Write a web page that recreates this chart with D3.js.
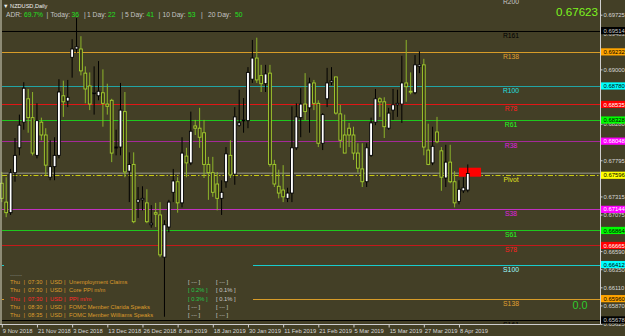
<!DOCTYPE html>
<html><head><meta charset="utf-8">
<script src="https://cdn.jsdelivr.net/npm/d3@7"></script>
<style>
html,body{margin:0;padding:0;background:#433f26;}
svg{display:block;}
text{font-family:"Liberation Sans",Arial,sans-serif;}
</style></head><body>
<svg id="c" width="625" height="336"></svg>
<script>
// ---------------- DATA ----------------
const dates = [
"2018-11-09","2018-11-12","2018-11-13","2018-11-14","2018-11-15","2018-11-16","2018-11-19","2018-11-20","2018-11-21","2018-11-22","2018-11-23","2018-11-26","2018-11-27","2018-11-28","2018-11-29","2018-11-30",
"2018-12-03","2018-12-04","2018-12-05","2018-12-06","2018-12-07","2018-12-10","2018-12-11","2018-12-12","2018-12-13","2018-12-14","2018-12-17","2018-12-18","2018-12-19","2018-12-20","2018-12-21","2018-12-24","2018-12-26","2018-12-27","2018-12-28","2018-12-31",
"2019-01-02","2019-01-03","2019-01-04","2019-01-07","2019-01-08","2019-01-09","2019-01-10","2019-01-11","2019-01-14","2019-01-15","2019-01-16","2019-01-17","2019-01-18","2019-01-21","2019-01-22","2019-01-23","2019-01-24","2019-01-25","2019-01-28","2019-01-29","2019-01-30","2019-01-31",
"2019-02-01","2019-02-04","2019-02-05","2019-02-06","2019-02-07","2019-02-08","2019-02-11","2019-02-12","2019-02-13","2019-02-14","2019-02-15","2019-02-18","2019-02-19","2019-02-20","2019-02-21","2019-02-22","2019-02-25","2019-02-26","2019-02-27","2019-02-28",
"2019-03-01","2019-03-04","2019-03-05","2019-03-06","2019-03-07","2019-03-08","2019-03-11","2019-03-12","2019-03-13","2019-03-14","2019-03-15","2019-03-18","2019-03-19","2019-03-20","2019-03-21","2019-03-22","2019-03-25","2019-03-26","2019-03-27","2019-03-28","2019-03-29",
"2019-04-01","2019-04-02","2019-04-03","2019-04-04","2019-04-05","2019-04-08","2019-04-09","2019-04-10"];

const open = [
.6749,.6724,.6710,.6763,.6796,.6830,.6861,.6836,.6786,.6830,
.6813,.6757,.6771,.6786,.6865,.6858,.6916,.6927,.6927,.6895,
.6878,.6868,.6865,.6869,.6854,.6859,.6796,.6797,.6844,.6765,
.6774,.6724,.6727,.6723,.6694,.6710,.6707,.6651,.6691,.6737,
.6751,.6723,.6785,.6776,.6825,.6822,.6816,.6774,.6763,.6748,
.6729,.6751,.6786,.6761,.6826,.6832,.6832,.6887,.6915,.6892,
.6881,.6895,.6774,.6745,.6740,.6729,.6736,.6796,.6836,.6854,
.6849,.6882,.6855,.6802,.6861,.6883,.6890,.6841,.6813,.6822,
.6813,.6789,.6768,.6751,.6786,.6830,.6861,.6857,.6822,.6846,
.6853,.6854,.6882,.6871,.6869,.6904,.6906,.6793,.6776,.6817,
.6792,.6756,.6777,.6751,.6725,.6739,.6740];
const high = [
.6764,.6757,.6768,.6809,.6840,.6883,.6874,.6870,.6855,.6836,
.6822,.6806,.6810,.6887,.6885,.6886,.6940,.6968,.6944,.6904,
.6896,.6904,.6911,.6900,.6881,.6861,.6820,.6882,.6870,.6790,
.6790,.6744,.6745,.6741,.6720,.6723,.6724,.6700,.6727,.6768,
.6757,.6810,.6796,.6844,.6833,.6849,.6833,.6784,.6784,.6764,
.6753,.6797,.6806,.6850,.6873,.6862,.6903,.6939,.6942,.6906,
.6906,.6906,.6780,.6767,.6773,.6743,.6851,.6855,.6875,.6895,
.6889,.6886,.6859,.6842,.6902,.6903,.6890,.6853,.6840,.6829,
.6824,.6802,.6802,.6802,.6836,.6874,.6863,.6863,.6849,.6874,
.6873,.6918,.6939,.6896,.6919,.6924,.6914,.6828,.6824,.6837,
.6797,.6800,.6800,.6765,.6753,.6757,.6774];
const low = [
.6724,.6704,.6707,.6751,.6786,.6820,.6816,.6786,.6782,.6806,
.6760,.6753,.6753,.6782,.6837,.6850,.6889,.6922,.6892,.6855,
.6846,.6840,.6859,.6824,.6840,.6777,.6786,.6786,.6757,.6724,
.6696,.6703,.6713,.6696,.6690,.6691,.6651,.6572,.6684,.6724,
.6710,.6717,.6757,.6773,.6813,.6796,.6756,.6727,.6731,.6713,
.6707,.6743,.6756,.6747,.6824,.6816,.6822,.6882,.6882,.6870,
.6870,.6771,.6744,.6729,.6724,.6724,.6724,.6793,.6810,.6833,
.6816,.6846,.6797,.6793,.6850,.6879,.6840,.6796,.6789,.6797,
.6780,.6763,.6744,.6744,.6784,.6826,.6837,.6809,.6820,.6833,
.6837,.6829,.6857,.6867,.6867,.6895,.6786,.6773,.6773,.6802,
.6739,.6744,.6749,.6717,.6721,.6736,.6737];
const close = [
.6729,.6710,.6763,.6786,.6826,.6875,.6836,.6789,.6832,.6813,
.6773,.6771,.6786,.6870,.6857,.6863,.6927,.6930,.6898,.6874,
.6854,.6869,.6871,.6855,.6851,.6789,.6797,.6846,.6764,.6774,
.6698,.6727,.6729,.6698,.6696,.6708,.6654,.6694,.6724,.6752,
.6723,.6789,.6776,.6818,.6822,.6810,.6774,.6763,.6737,.6729,
.6737,.6788,.6760,.6837,.6829,.6833,.6896,.6915,.6886,.6881,
.6894,.6774,.6748,.6736,.6731,.6736,.6796,.6837,.6854,.6844,
.6882,.6855,.6802,.6840,.6882,.6885,.6842,.6806,.6789,.6813,
.6789,.6769,.6751,.6796,.6829,.6861,.6857,.6824,.6842,.6853,
.6855,.6882,.6877,.6870,.6906,.6906,.6797,.6774,.6798,.6804,
.6757,.6777,.6751,.6723,.6741,.6743,.6762];

const levelNames  = ["R200","R161","R138","R100","R78","R61","R38","Pivot","S38","S61","S78","S100","S138","S161"];
const levelValues = [0.69964,0.69514,0.69232,0.68780,0.68535,0.68328,0.68048,0.67596,0.67144,0.66864,0.66665,0.66412,0.65960,0.65678];

const priceTicks = [0.69725,0.69483,0.69000,0.68280,0.67795,0.67315,0.67075,0.66590,0.66350,0.66110,0.65870,0.65625];
const dateTicks = ["2018-11-09","2018-11-21","2018-12-03","2018-12-13","2018-12-26","2019-01-08","2019-01-18","2019-01-30","2019-02-11","2019-02-21","2019-03-05","2019-03-15","2019-03-27","2019-04-08"];

const symbolTitle = "NZDUSD,Daily";
const lastPrice = 0.67623;
const adrPct = "69.7%";
const adrLabels = ["Today:","1 Day:","5 Day:","10 Day:","20 Day:"];
const adrValues = [36,22,41,53,50];

const newsDay   = ["Thu","Thu","Thu","Thu","Thu"];
const newsTime  = ["07:30","07:30","07:30","08:30","08:35"];
const newsCcy   = ["USD","USD","USD","USD","USD"];
const newsEvent = ["Unemployment Claims","Core PPI m/m","PPI m/m","FOMC Member Clarida Speaks","FOMC Member Williams Speaks"];
const newsForecast = ["---","0.2%","0.3%","---","---"];
const newsPrevious = ["---","0.1%","0.1%","---","---"];
const newsHighImpact = [false,false,true,false,false];

const redBoxPrices = [0.67577, 0.67696];
const redBoxStart = "2019-04-08";
const spreadText = "0.0";

// ---------------- STYLE / LAYOUT ----------------
const W = 625, H = 336;
const BG = "#433f26";
const plotL = 2, plotR = 600, plotB = 324;
const levelLine = {R200:"#000",R161:"#000",R138:"#d89c28",R100:"#22a4a4",R78:"#e01616",R61:"#1ec81e",R38:"#a42a98",
  Pivot:"#c8c814",S38:"#c030c0",S61:"#1ec81e",S78:"#c41a1a",S100:"#18cccc",S138:"#d89c28",S161:"#000"};
const levelText = {R200:"#c8c8c8",R161:"#000",R138:"#e0a030",R100:"#20e0e0",R78:"#ff2020",R61:"#20ff20",R38:"#e020e0",
  Pivot:"#e0e020",S38:"#e020e0",S61:"#20ff20",S78:"#ff2020",S100:"#a0ffff",S138:"#e0a030",S161:"#000"};
const levelBox = {R200:["#000","#c8c8c8"],R161:["#000","#c8c8c8"],R138:["#ffa500","#000"],R100:["#00ffff","#000"],R78:["#ff0000","#fff"],
  R61:["#00ff00","#000"],R38:["#ff00ff","#fff"],Pivot:["#ffff00","#000"],S38:["#ff00ff","#fff"],S61:["#00ff00","#000"],
  S78:["#ff0000","#fff"],S100:["#00ffff","#000"],S138:["#ffa500","#000"],S161:["#000","#c8c8c8"]};
const BULL_BODY="#ffffff", BULL_LINE="#000000", BEAR_BODY="#37351a", BEAR_LINE="#a6d02e", BEAR_WICK="#8cb42a";
const AXIS="#cfcfcf";

const svg = d3.select("#c");
svg.append("rect").attr("width",W).attr("height",H).attr("fill",BG);

const x = d3.scalePoint().domain(dates).range([1.8, 1.8 + 4.396*(dates.length-1)]);
const step = x.step();
const y = d3.scaleLinear().domain([0.65625,0.69725]).range([323.9,14.7]);

const defs = svg.append("defs");
defs.append("clipPath").attr("id","plotclip").append("rect").attr("x",0).attr("y",0).attr("width",plotR).attr("height",plotB);
defs.append("clipPath").attr("id","axisclip").append("rect").attr("x",plotR).attr("y",0).attr("width",W-plotR).attr("height",plotB+4);

const plot = svg.append("g").attr("clip-path","url(#plotclip)");

// level lines
const levels = levelNames.map((n,i)=>({n, v:levelValues[i]}));
plot.append("g").selectAll("line").data(levels).join("line")
  .attr("x1",plotL).attr("x2",plotR)
  .attr("y1",d=>Math.round(y(d.v))+0.5).attr("y2",d=>Math.round(y(d.v))+0.5)
  .attr("stroke",d=>levelLine[d.n]).attr("stroke-width",1)
  .attr("stroke-dasharray",d=>d.n==="Pivot"?"5,2,1.5,2":null);

// bid line
plot.append("line").attr("x1",plotL).attr("x2",plotR)
  .attr("y1",y(lastPrice)).attr("y2",y(lastPrice))
  .attr("stroke","#7c7c6c").attr("stroke-width",1.6);

// news panel background (covers objects)
plot.append("rect").attr("x",4).attr("y",250).attr("width",249).attr("height",68).attr("fill",BG);

// red box
plot.append("rect").attr("x",x(redBoxStart)).attr("width",step*5)
  .attr("y",y(redBoxPrices[1])).attr("height",y(redBoxPrices[0])-y(redBoxPrices[1]))
  .attr("fill","#ff0000");

// candles
const bars = dates.map((d,i)=>({d,o:open[i],h:high[i],l:low[i],c:close[i]}));
const cg = plot.append("g").selectAll("g").data(bars).join("g");
cg.append("line")
  .attr("x1",b=>x(b.d)).attr("x2",b=>x(b.d))
  .attr("y1",b=>y(b.h)).attr("y2",b=>y(b.l))
  .attr("stroke",b=>b.c>=b.o?BULL_LINE:BEAR_WICK).attr("stroke-width",1);
cg.append("rect")
  .attr("x",b=>x(b.d)-1.4).attr("width",2.8)
  .attr("y",b=>y(Math.max(b.o,b.c)))
  .attr("height",b=>Math.max(0.9,Math.abs(y(b.o)-y(b.c))))
  .attr("fill",b=>b.c>=b.o?BULL_BODY:BEAR_BODY)
  .attr("stroke",b=>b.c>=b.o?BULL_LINE:BEAR_LINE).attr("stroke-width",0.9);

// level text labels
plot.append("g").selectAll("text").data(levels).join("text")
  .attr("x",511).attr("y",d=>y(d.v)+7)
  .attr("text-anchor","middle").attr("font-size",6.8)
  .attr("fill",d=>levelText[d.n]).text(d=>d.n);

// header
svg.append("text").attr("x",3).attr("y",8).attr("font-size",5.6).attr("fill","#f0f0f0").text("\u25BC " + symbolTitle);

const adrSegs = [["ADR:",6,"l"],[adrPct,24,"v"]];
const labX=[50.5,87,125,162.5,208], valX=[71.5,108,146.5,188,235], pipeX=[46.5,84,121.5,158.5,201];
adrLabels.forEach((l,i)=>{adrSegs.push(["|",pipeX[i],"l"]);adrSegs.push([l,labX[i],"l"]);adrSegs.push([String(adrValues[i]),valX[i],"v"]);});
svg.append("g").selectAll("text").data(adrSegs).join("text")
  .attr("x",d=>d[1]).attr("y",16.6).attr("font-size",6.7)
  .attr("fill",d=>d[2]==="v"?"#22e022":"#c4c4c4").text(d=>d[0]);

// big price
svg.append("text").attr("x",598).attr("y",15.5).attr("text-anchor","end").attr("font-size",11.6)
  .attr("fill","#7cf41e").text(d3.format(".5f")(lastPrice));
// spread
svg.append("text").attr("x",572.5).attr("y",309).attr("font-size",10.8).attr("fill","#2ecc2e").text(spreadText);

// news
svg.append("text").attr("x",10).attr("y",277).attr("font-size",6).attr("fill","#8c8c8c").text("------");
const news = newsEvent.map((e,i)=>({i,day:newsDay[i],t:newsTime[i],c:newsCcy[i],e,f:newsForecast[i],p:newsPrevious[i],hi:newsHighImpact[i]}));
const ng = svg.append("g").selectAll("g").data(news).join("g")
  .attr("transform",d=>`translate(0,${284.3+d.i*8.1})`);
const cols = [[d=>d.day,10],[()=>"|",23.5],[d=>d.t,28],[()=>"|",45.5],[d=>d.c,50],[()=>"|",64],[d=>d.e,69]];
cols.forEach(([f,cx])=>{
  ng.append("text").attr("x",cx).attr("font-size",5.8).attr("fill",d=>d.hi?"#ff2a2a":"#dc9c2c").text(f);
});
ng.append("text").attr("x",188).attr("font-size",5.8).attr("xml:space","preserve")
  .attr("fill",d=>d.f==="---"?"#c8c8c8":"#22c84a").text(d=>"[ "+d.f+" ]");
ng.append("text").attr("x",216).attr("font-size",5.8).attr("xml:space","preserve")
  .attr("fill","#c8c8c8").text(d=>"[ "+d.p+" ]");

// frame / axes
svg.append("line").attr("x1",1).attr("x2",1).attr("y1",0).attr("y2",plotB).attr("stroke","#d8d8c4").attr("stroke-width",1);
svg.append("line").attr("x1",0).attr("x2",plotR+0.5).attr("y1",plotB+0.5).attr("y2",plotB+0.5).attr("stroke",AXIS);
svg.append("line").attr("x1",plotR+0.5).attr("x2",plotR+0.5).attr("y1",0).attr("y2",plotB+0.5).attr("stroke",AXIS);

const fmtDate = d3.timeFormat("%-d %b %Y"), parse = d3.timeParse("%Y-%m-%d");
const xAxis = svg.append("g").attr("transform",`translate(0,${plotB+0.5})`)
  .call(d3.axisBottom(x).tickValues(dateTicks).tickSize(3).tickFormat(d=>fmtDate(parse(d))));
xAxis.select(".domain").remove();
xAxis.selectAll("line").attr("stroke",AXIS);
xAxis.selectAll("text").attr("text-anchor","start").attr("x",0.5).attr("y",4).attr("dy","0.71em")
  .attr("font-size",5.8).attr("fill","#d8d8d8").attr("font-family","'Liberation Sans',Arial,sans-serif");

const yAxis = svg.append("g").attr("transform",`translate(${plotR+0.5},0)`)
  .call(d3.axisRight(y).tickValues(priceTicks).tickSize(2).tickFormat(d3.format(".5f")));
yAxis.select(".domain").remove();
yAxis.selectAll("line").attr("stroke",AXIS);
yAxis.selectAll("text").attr("x",3).attr("dy","0.35em").attr("font-size",5.9).attr("fill","#d8d8d8")
  .attr("font-family","'Liberation Sans',Arial,sans-serif");

// coloured level price boxes (only those inside the price range shown)
const inRange = levels.filter(d=>y(d.v)>4 && y(d.v)<plotB);
const boxes = svg.append("g").attr("clip-path","url(#axisclip)").selectAll("g").data(inRange).join("g")
  .attr("transform",d=>`translate(${plotR+1},${y(d.v)})`);
boxes.append("rect").attr("x",0).attr("y",-3.6).attr("width",W-plotR).attr("height",7.2).attr("fill",d=>levelBox[d.n][0]);
boxes.append("text").attr("x",2.5).attr("dy","0.35em").attr("font-size",5.9)
  .attr("fill",d=>levelBox[d.n][1]).text(d=>d3.format(".5f")(d.v));
</script>
</body></html>
